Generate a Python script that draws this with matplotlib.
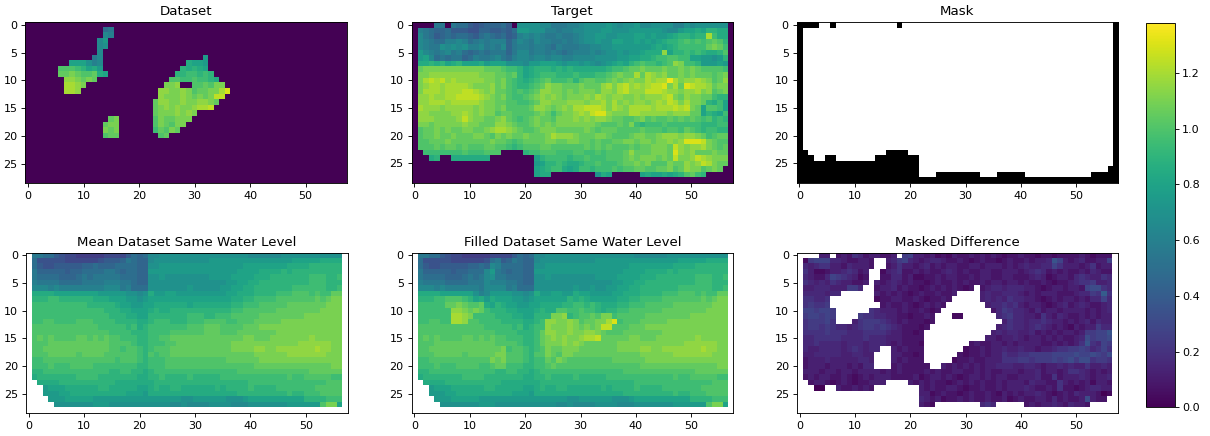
import numpy as np
import matplotlib
matplotlib.use('Agg')
import matplotlib.pyplot as plt

# one letter per cell, A = 0.0 and each next letter adds one step, '.' is an empty cell
codes = 'ABCDEFGHIJKLMNOPQRSTUVWXYZab'
step = 0.05
diff_step = 0.04
vmax = 1.38

titles = ['Dataset', 'Target', 'Mask',
          'Mean Dataset Same Water Level', 'Filled Dataset Same Water Level', 'Masked Difference']

# (row, first column, cell codes); everything else in the dataset is 0
dataset_cells = [
    (1, 14, 'KL'), (2, 14, 'NM'), (3, 13, 'NP'), (4, 13, 'NO'), (5, 13, 'N'), (6, 12, 'LN'),
    (7, 8, 'QQQOMN'), (8, 6, 'UUUTSQRP'), (9, 6, 'VVWVUUVRQ'), (10, 7, 'XXWVWV'),
    (11, 7, 'YYXW'), (12, 7, 'YYX'),
    (17, 15, 'VW'), (18, 14, 'VWW'), (19, 14, 'WVW'), (20, 14, 'UVV'),
    (6, 32, 'P'), (7, 29, 'RQQP'), (8, 28, 'SRSRQ'), (9, 27, 'SSTTSTS'), (10, 26, 'UUTTUTTSR'),
    (11, 25, 'WWXAAUUVUWW'), (12, 24, 'XXWWXWUVVWWYa'), (13, 24, 'XWWWXWVWVWZZ'),
    (14, 23, 'VXXWWXWWXXWV'), (15, 23, 'VWXWXWWXYYZ'), (16, 23, 'VWWWXWXW'),
    (17, 23, 'UWVVWWW'), (18, 23, 'UWVUWW'), (19, 23, 'TVUWV'), (20, 24, 'UV'),
]

target_rows = [
    'AAAALLALKK IHIJJJKIAO OOONNLLLMM NOOOOPONOO PNNOOOOMMO NOOOOOOA',
    'AMLKJJKIII HHJJIIJIKP POOOMMLMMN NOOOPPOOOP PPPPPONNPQ QRQSSRRA',
    'ANLKIJKJKK JIKLKJKIJM NMNMLLMLLM NOOPPOOPPP QQPQPPQRSS RSSYTRRA',
    'ANMLKKMMNM KLMLMMMJLN MLNMMLLMLM NOOPOOQQPP QPQPQRSSTU TUTUVUSA',
    'ANMLLONONO MMNLMLNJLM MLMMLKMLLL MMNNOOPPPP PPPQRQRSTT TTTVWVTA',
    'APNMLMNLMK JKLKLLLJLN NLMMLMLKLM MMNMNOOPOP PQRRRXQSST STSRRSUA',
    'APQNKLKLLJ KMLLMNLKMN NMNNMNNMMN NNNOOOOPPQ QRRSTTUUTT QQPPOPSA',
    'ARRSRSQRSQ QQRPQQQOOO NPPQQQPOPP OPONOPQRQS TUTTSTUXWT TSPPPQPA',
    'AVWWWWWWWW WWWVVVUTTS QRSSSRSRSR RRRRRSTTUV VWVVVWVVWV WVUUUUTA',
    'AWWXXXXXXX XXWWWVVUVS QRSTTTSSST SSSTTUVWVV YVYXWXVVWV WVVVUVWA',
    'AWYZYZXYXX XXXWWVWUTS RSTUVTTTUS UVVUUVWVWX WWYXYYbYWX XYXWUVXA',
    'AWXYYXYYYY XWWWXVWUTS STUVXWWVVV WVVVXYWYZX YXYZZaWYVa ZYYXVWWA',
    'AWYYYXYYYZ ZYXWXVVUTU TUVXXWWVWV WWWVXXWYZX XXZZZYXXWX XYWXUVWA',
    'AXXYXXYYZZ ZZYXWVWUTT UVWXWXWVWW WXWYXWXXWW XWXXXYZWVX WWVVTSSA',
    'AXXYYYXYYY YYXWWVVUUT TUVXXWWWXX XWXXYWYWXW XXWXYXZYWY WWVSRTQA',
    'AYXXXWXXXX XWXWWVWUUU UVXXWVWXWY YZZZYWYXWY YYYXYYYZYZ WVQUUTQA',
    'AXXWWWWXXY XWXWWUVVUU UUVWVTVWWX YXZaaXWWWY YXXXXXWXXX VVQSRQTA',
    'AXXXWWWWXZ XWWVVWXVUT UVWVVUWWWX WXWXXWVVUU VWUVUUVUVU VUTUSTSA',
    'AWWVWWWWWX WWVVVXXWVU UVWVWVWWWW WWWVUUUVUW TSTTTUTTTT TTSSSTTA',
    'AUVVWVWVVW WVVWXYYXWV UUVWWWVVVV VWVUVVVUUU UVUUUTUUTV UTSTTSSA',
    'AUVVWVVWVV VWWVUWVWVV WVVVWYXXXW VVVWWVUUUV WWVVWXXXWX XWVTUVVA',
    'AUUVVVWVVV VVVVWVVUTU VVVVWWVVWW VVUVUUVVWW VWWVWWXWXa aaZWVUUA',
    'AUUUVUVVUV UUUVVUUTST UUUVVUUUUU UVUVUVUUUV UVVWWWVZXW XXYWVUVA',
    'AATTTTTTTU TTTUUUAAAA STTUUUTTTU UTTUTUUUVX VVVWWWVaXW XVVVWVVA',
    'AAARSAARRR RRRRAAAAAA AAQSTTTTST TUTTTUUUVW VWWWVWVZWW XZYXWWWA',
    'AAAAAAAAAA AAAAAAAAAA AAPQSSTSRR STTUTTTUVV WVWUUUWVVX WXZYWVVA',
    'AAAAAAAAAA AAAAAAAAAA AAQRSTTRQR TTSTTTUTUU VVUUVVWUVX WWUVWVAA',
    'AAAAAAAAAA AAAAAAAAAA AAQRRAAAAA AAAORQAAAA AQRQQRQRSU VTSAAAAA',
    'AAAAAAAAAA AAAAAAAAAA AAAAAAAAAA AAAAAAAAAA AAAAAAAAAA AAAAAAAA',
]

mean_rows = [
    '.LLKKIHGGF FFFFGGGGIK JKNNOOOOOO OOOOOOOOOO NNNNNNOOOO OOOOOOO.',
    '.KHHHHHGGG GGGHIIIJLK JJNOOOOOOO OOOPPPPPPP PPPPPPPPQQ QQQRRRR.',
    '.KIHHIIIII JJKJJJKKKK JJOOPPPPPP PPPPPPPPPQ QQQQQQQRRR RSSSSSS.',
    '.LJJJJJIJJ KKKKLLKJKK JJPPPPPPPP PPPPPPPPQQ QQRRRRSRSS SSSSSSS.',
    '.LKKKKJJJK LKLLLLLKKK JJOOPOOOOO OOOPPPPQQQ QRRRSSSSSS STTTSST.',
    '.MLLLLKKKK LLLLMMMLLK JJOOOOOOOO OOOOOOPPQQ RRSSSSSSSS STTTSSS.',
    '.NNNMNMMMM MMMMNNNLMK KKOOOOOOOP OOOOOPPQQR RSSSSSSSTT TTTTSST.',
    '.RRRRQQQQQ QQQPPPPPOO NORPPQQPPP PPPPPPQQRR RSSSSTTTUU UTUTTVV.',
    '.SSSTTSSSS SSRRRQQQPP OPQQQQQQQQ QQQQQQQRRS STTTTUUUUU UUVUVWW.',
    '.TTTTTTTTT TSSSSSRQQP PQQRRRRRRQ RRRRRRRSST TTUUUUUVVV VVVVWWW.',
    '.TTTTTTTTT TTTTSSSRRQ QQRSRRSSSS SSSSSSSTTU UUUUUVVVVV VVVWWWW.',
    '.TTTTTTTTT TTTTTSSSRR QQSSSSSSST TTSSTTTUUU UUVVVVVVVV WWWWWWW.',
    '.TTUUTTTTU UUTTTTSSSS RRSTTTSSST TTUUUUTTUU UVVVVVWWWW WWWWWWW.',
    '.UUUUUUUUU UUUTTTTTST RSTTTTTTTU UUVVVUUUUV VVWWWWWWWW WWWWWWW.',
    '.UUUUUUUUU UUUUUTTTTS SSTTTTUUUU UUVVVUUUVV VVVVVWWWWW WWWWWWW.',
    '.UVUVUUUUV VUVUVUUTTT SSTTUUVVVV VVVVVVVVVW WVVVWWWWWW WXWWWWW.',
    '.UUUVVVVVV VVVVVUUUUT SSTTTUUVVV VVVVVVVWWW WWWWWWWWWX XXXXXWW.',
    '.UUVVVVVVV VVVVVUUTUU TSTUUUVVVV VVVVVVVWWW WXXWWXXXXX XXYXXWW.',
    '.UUUVVVVVU VVVVUUUUUU TSUTUUVVVV VVVVVVVVVV VWWWWWWXXX XXXXWWW.',
    '.TTUUUUUUU UUUUUUTUUU TSTTTUUUUU UUUUUUVVVV VVWWWWWWWW WWWWWWW.',
    '.TTTUTTTUU UUTTTTTTTT SSTTTUUUUU UUUUUUUUUU UVVVVVVVVV VVVVVWW.',
    '.SSTTTTTTT TTTTTSSTTS SRSTTTTTTT TTTTTTTTUU UUUUUUUUUU UVVVVVV.',
    '.RSSSSSSST TTTSSSSSSS RRSSTSSSST SSSSSTTTTT TTTTTTTUTT UUUUUTT.',
    '..RRRRSSSS SSSSSSRRRR RRRSSSSSSS SSSSSSSSSS TTTTTTTTTT TTTTUUU.',
    '...PQQQRRR RRRSSRRRRR QQRSRRSSRR RRRRSRSSSS TSSSSTTTTT TTUUUUU.',
    '...PPPQQRR RRRRRRRRQQ QPRRRRRRRR RRRRRRRRSS SSSSSSSTSS TTTUUUU.',
    '....PPPQQQ QQPPPPPPPP PPPPPPPPOO PPPPPPOOOP QQQQQQQQQQ SSSSTTT.',
    '.....OOOOO OOPPPOOOOO OOOOOONNON NNNOOOONNN OOOOOOOPPP PPPUWWQ.',
    '.......... .......... .......... .......... .......... ........',
]

diff_rows = [
    '....DD.CDC FECDDCCD.G HDDCDBCBDC CDCDCDCBCC DCCBCCBCCC CDCBCCC.',
    '.BGHHHEEDC CDDC..DEGH EDCDEEDCCD CBCDCCBCDC CDCDDEJHDC DECCDDH.',
    '.EDEFFDDCE DDDC..CDFD DCDECDCDDC CDDCDDDCDC DEDDEEHFDD DCDFCDD.',
    '.FDBBCDDEF ECD..BDEFC CDCDCCDEDC DCCDDCCDDD CDEFECDCDC CDCEDCC.',
    '.EDCCEHGFE DBC..CCEEC DBBCCDCDDC CDCDDCCDDC CCDEDBCDDC EFEDDFE.',
    '.FEDEDFEDD CCD.DCDEDC DCCBCDCCDC DCCDCDDCDD CDCCDCBCCD EFFGDDE.',
    '.DDEEEDDDG GE..CDDECD CCBCDCDCDC BC.CDEEDEE EDDCBCDDCD DCHIIFE.',
    '.EEEEDEE.. ....DCDCDC BCDCCDCCD. ...DEDDEEE DCDCDDDCCC DEEGFKF.',
    '.FFEEF.... ....BCCDDC CDCBCCDC.. ...DEDEDFE EDDCBCDCDD CDCEEHE.',
    '.FGFFG.... .....CDCCD CBCDCDC... ....DEEFEF DCDDCBCDEC DEDCCDE.',
    '.HHGHHG... ...FEDDDCD CCDCBC.... .....CEGFE EDCECDDCDD DDCDCDE.',
    '.GHHGHG... .GFFEEDDCC BCCDC...BB ......EFGE EDDCFDCEDC CDCDCDD.',
    '.FGGGHF... DFGGGFEDCD CCCBC..... .......DFE EDEEFEDDCD CDECEDD.',
    '.FGGFGFEED EFGGFGFEDC CCBC...... ......DEFE EDEFEDCDCB DCDDGEE.',
    '.FFFFGFFFE EEFFFFEDDC CBC....... .....DEDEE DDECDCDCDD CDGGHHJ.',
    '.EEFFFFFEE EEFEEEDDDC CCC....... ....DDCDDE DCDDCDCDCC DEIGHHI.',
    '.EEFEEEEDE EEDEEEDCDC CCB....... .CDCCDDCDC DDDDCCDCDC DFJFEHG.',
    '.EDDEEEEDE FEDEE..DCD CCC....... BCCDCDDEDD EDDCDDEFFG GHGEFHF.',
    '.DDEEEEEDD EEDD...DDC CBC......C BCCDCDDFEE FFGGGGHHHH IHHIHGI.',
    '.CDDDEDDDD DEED...DCD CCC.....BC CDCCDDDFFF GGFGGGHGHI GIIFGGF.',
    '.CDDDCDDDC DCEE...CDC CCCC..DCDC DCDCDDEEED DEEDCDDEDE DDFDDED.',
    '.DDDCDDCDD CDDDDCDCDC CCCDCDCCDD CCDCDCCDDD CDDECDDCDF FEDCDCD.',
    '.CDCDDCCDC BCDCDDDCCC CDBCDDCDCB CDDCDCDDCC DDDECCFCDD DEDCDDE.',
    '..CDDCBCDC BCCDDD.... DCDCDCCBCD CDCDCCDCDD DCEDDCCFDC DCDBDDC.',
    '...AA..DCC DCDC...... ..DCDCCDDC BCCDCCDCDD DEDCCDCFCC BCDEEDD.',
    '.......... .......... ..DDBCDCCB CDCCDCBDCD CDDEDCBCDC EDDDCAB.',
    '.......... .......... ..EDCDBCCD CDCCDCCDBC DCCDDCECDC CDIDCC..',
    '.......... .......... ..DCB..... ...EFE.... .CDCDDEDCE DDC.....',
    '.......... .......... .......... .......... .......... ........',
]


def decode(rows, size=step):
    grid = np.full((29, 58), np.nan)
    for r, row in enumerate(rows):
        row = row.replace(' ', '')
        if len(row) != 58:
            raise ValueError('row %d has %d cells' % (r, len(row)))
        for c, ch in enumerate(row):
            if ch != '.':
                grid[r, c] = codes.index(ch) * size
    return grid


dataset = np.zeros((29, 58))
for r, c0, cells in dataset_cells:
    for i, ch in enumerate(cells):
        dataset[r, c0 + i] = codes.index(ch) * step

target = decode(target_rows)
mean_level = decode(mean_rows)
difference = decode(diff_rows, diff_step)
mask = (target > 0).astype(float)
filled = np.where(dataset > 0, dataset, mean_level)

W, H = 1210, 436
fig = plt.figure(figsize=(W / 100, H / 100), dpi=100)
plt.rcParams['axes.linewidth'] = 0.64


def box(x0, y0, x1, y1):
    return [x0 / W, 1 - y1 / H, (x1 - x0) / W, (y1 - y0) / H]


# pixel boxes of the panels
boxes = [(25, 22, 347.5, 183), (411.5, 22, 733, 183), (796.5, 22, 1118, 183),
         (26, 252.5, 347.5, 413.3), (411.5, 252.5, 733, 413.3), (797, 252.5, 1118, 413.3)]
images = [dataset, target, mask, mean_level, filled, difference]

for i in range(6):
    ax = fig.add_axes(box(*boxes[i]))
    if i == 2:
        im = ax.imshow(images[i], cmap='gray', vmin=0, vmax=1)
    else:
        im = ax.imshow(images[i], cmap='viridis', vmin=0, vmax=vmax)
    if i == 0:
        shared = im
    ax.set_title(titles[i], fontsize=9.6, pad=4.8)
    ax.set_xticks(range(0, 51, 10))
    ax.set_yticks(range(0, 26, 5))
    ax.tick_params(labelsize=8, length=2.8, width=0.64, pad=2.8)
    for s in ax.spines.values():
        s.set_linewidth(0.64)

cax = fig.add_axes(box(1146, 22.7, 1174.5, 407.3))
cbar = fig.colorbar(shared, cax=cax)
cbar.ax.tick_params(labelsize=8, length=2.8, width=0.64, pad=2.8)
cbar.outline.set_linewidth(0.64)

fig.savefig('out.png', dpi=100)
